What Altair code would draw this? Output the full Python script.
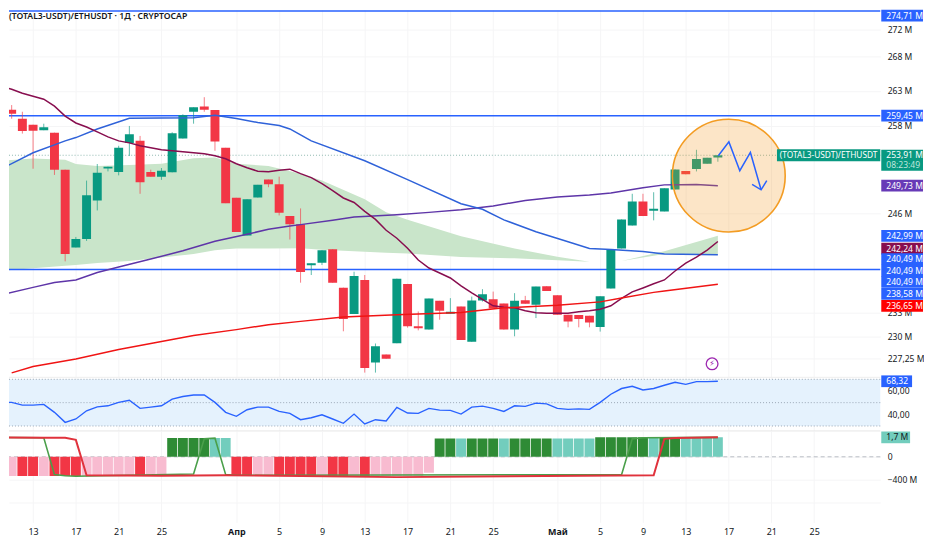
import altair as alt
import pandas as pd

FONT = "Noto Sans"
TXT = "#131722"
BLUE = "#2962ff"
GREEN = "#089981"
RED = "#f23645"
MAROON = "#880e4f"
PURPLE = "#673ab7"

# ---- candles, one per day (day number counted from 1 March) ----
first_day = 10
opens = [262.22,260.29,259.02,258.18,257.40,257.06,251.92,241.45,242.58,247.72,252.09,251.60,255.63,255.91,251.60,250.96,251.55,256.23,260.01,260.77,260.25,254.94,248.08,243.03,248.12,250.56,249.92,245.62,244.52,239.11,239.45,241.23,236.22,232.84,237.21,226.77,227.76,229.16,236.70,231.28,230.87,234.52,232.88,233.80,229.34,234.56,234.74,234.18,230.87,234.61,234.01,236.40,235.25,232.75,232.71,232.62,231.21,236.10,241.32,244.35,247.59,246.34,246.25,249.21,251.74,252.02,252.74,253.60]
closes = [259.51,259.73,257.30,257.34,257.82,251.92,240.58,242.58,248.44,251.51,252.33,254.94,256.84,250.19,250.96,251.78,256.98,259.51,260.63,260.29,255.81,247.36,243.51,247.89,249.84,249.92,246.07,244.52,238.24,239.37,241.10,236.86,232.21,237.72,226.08,228.79,227.23,237.38,231.28,231.03,234.82,233.25,233.13,229.58,234.56,235.38,233.55,230.87,234.52,234.14,236.35,235.80,232.75,231.91,232.21,231.78,235.12,241.23,245.18,247.59,245.62,246.61,249.38,251.96,251.28,253.38,253.56,253.91]
highs = [262.22,260.96,260.01,258.18,258.32,257.06,251.92,242.84,250.42,252.70,252.33,255.22,258.00,256.60,251.92,252.15,257.12,259.65,260.63,262.08,260.25,254.94,248.08,247.89,249.84,250.56,250.96,245.62,246.65,239.37,241.10,241.23,236.22,238.28,237.85,229.13,227.76,237.38,236.70,233.17,234.82,234.52,234.87,233.80,235.07,236.02,235.71,234.18,235.51,235.16,236.35,236.40,235.25,232.75,232.71,232.62,235.12,241.23,245.18,248.63,248.63,248.84,249.38,251.96,251.74,254.67,253.56,253.91]
lows = [259.51,259.02,256.93,252.05,257.40,251.20,239.63,241.45,242.32,246.38,251.68,251.14,253.80,248.63,250.96,250.52,251.55,256.23,258.32,260.01,254.53,247.36,243.51,243.03,248.12,249.52,245.71,242.50,236.86,237.85,239.15,236.86,230.66,232.84,225.52,225.52,227.23,229.16,231.12,230.78,230.87,232.12,232.88,229.58,229.34,234.43,233.55,230.87,230.03,234.14,232.33,235.80,232.75,231.16,231.16,231.16,230.62,236.10,241.32,244.35,245.62,245.05,246.25,249.21,251.28,251.68,252.74,253.01]

# ---- moving averages ----
ma_maroon = [263.65,263.22,262.65,262.22,261.80,260.81,259.40,258.42,257.86,257.16,256.46,255.91,255.63,255.22,254.94,254.67,254.53,254.39,254.25,254.11,253.84,253.43,252.74,252.19,251.71,251.64,251.85,251.99,251.37,250.83,250.02,249.07,248.06,247.45,246.25,245.18,243.73,242.67,241.36,239.80,238.76,238.11,237.47,236.44,235.55,234.71,233.89,233.70,233.63,233.25,233.00,232.94,232.94,232.94,233.13,233.25,233.44,233.89,234.84,235.67,236.18,236.72,237.21,238.37,239.41,240.19,241.10,242.24]
purple_d = [10,13,15,17,19,21,24,27,30,33,35,37,38,41,43,47,50,53,56,59,62,65,67,70,72,75,77]
purple_v = [235.29,236.25,236.89,237.21,238.18,238.89,239.93,241.01,242.28,243.20,243.86,244.30,244.48,245.05,245.49,245.81,246.12,246.47,246.98,247.72,248.20,248.47,248.73,249.44,249.84,249.88,249.73]
blue_d = [10,13,16,17,19,22,25,28,30,32,34,36,37,38,39,44,48,53,55,57,60,63,65,67,70,72,77]
blue_v = [252.01,254.25,255.91,256.37,257.58,259.08,259.12,259.16,259.50,259.05,258.49,258.07,257.58,256.75,255.91,253.15,250.56,247.28,246.54,245.12,243.53,242.21,241.32,241.19,240.93,240.58,240.49]
red_d = [11,13,17,21,25,28,32,35,38,42,47,53,57,62,66,68,71,72,77]
red_v = [225.49,226.28,227.20,228.38,229.37,230.12,230.87,231.49,231.91,232.46,232.75,233.04,233.63,233.95,234.39,234.90,235.61,235.80,236.65]

# ---- green cloud ----
cloud_d = [10,13,16,17,19,22,25,28,30,31,32,35,38,40,44,46,48,53,58,62,65]
cloud_hi = [253.15,253.46,253.29,252.70,252.43,252.56,252.74,253.50,253.60,253.15,252.74,252.43,251.37,250.42,247.89,246.15,245.14,242.94,241.32,240.23,239.58]
cloud_lo = [238.41,238.72,239.05,239.15,239.41,239.67,240.12,240.58,241.10,241.23,241.30,241.32,241.36,241.16,240.88,240.75,240.66,240.20,240.02,239.76,239.58]
cloud2_d = [68,72,77]
cloud2_hi = [239.67,240.97,242.99]
cloud2_lo = [239.67,240.58,240.49]

# ---- drawing: levels, forecast arrow, circle ----
levels = [274.71,259.45,238.58]
last_price = 253.91
arrow_d = [77.04,78.03,79.05,80.04,81.04]
arrow_v = [253.84,255.77,251.78,254.30,249.17]
head_d = [80.2,81.04,81.57]
head_v = [249.90,249.17,250.42]
circle_d = [78.02]
circle_v = [251.1]
bolt_d = [76.46]
bolt_v = [226.6]

# ---- price axis and tags ----
price_ticks = [272,268,263,258,246,233,230,227.25]
tag_text = ["274,71 M","259,45 M","249,73 M","242,99 M","242,24 M","240,49 M","240,49 M","240,49 M","238,58 M","236,65 M"]
tag_pos = [274.0,259.45,249.73,242.99,241.30,239.93,238.41,236.95,235.42,233.89]
tag_col = [BLUE,BLUE,PURPLE,BLUE,MAROON,BLUE,BLUE,BLUE,BLUE,"#ff0000"]

# ---- RSI ----
rsi = [50.2,50.2,47.9,47.9,48.5,41.7,33.1,36,43,46.4,47.3,50.2,52.1,45.1,46.2,47.3,53,55.3,56.6,56.6,50.2,41.7,38.3,43.9,46.2,46.2,42.5,40.8,35.4,37.1,39.6,36,32.3,40.2,31.7,35.4,34.3,45.9,41.1,40.8,45.1,43.6,43.4,40.2,46.2,47,45.1,42.5,47.3,46.8,49.6,49,45.1,44.2,44.7,44.2,50.2,57.2,62.1,64,60.9,62.1,64.9,67.4,65.7,68,68,68.32]
rsi_levels = [70,50,30]
rsi_ticks = [60,40]

# ---- momentum histogram and its two lines ----
R, P, G, T = "#f23645", "#f8bbd0", "#2e8b35", "#72cdbd"
hist_col = [R,P,R,R,P,R,R,R,P,P,P,P,P,R,P,P,G,G,G,G,T,T,R,R,P,P,R,R,R,R,P,R,R,P,R,P,P,P,P,P,P,G,G,T,G,G,G,T,G,G,G,G,T,T,T,T,G,G,G,G,G,T,G,G,T,T,T,T]
hist_val = [-1.68]*16 + [1.65]*6 + [-1.68]*18 + [-1.39] + [1.6]*15 + [1.7]*12
line_red_d = [10,14,16,17,18,25,31,47,71,72,73,77]
line_red_v = [1.7,1.66,1.66,1.48,-1.62,-1.66,-1.62,-1.78,-1.62,1.57,1.65,1.7]
line_grn_d = [10,14,15,16,17,28,29,30,31,32,68,69,70,77]
line_grn_v = [1.7,1.66,-1.56,-1.66,-1.7,-1.5,1.57,1.63,-1.56,-1.62,-1.56,1.57,1.66,1.7]
osc_ticks = [0,-2,-4]

# ---- time axis ----
tick_days = [13,17,21,25,32,36,40,44,48,52,56,62,66,70,74,78,82,86]
tick_labels = ["13","17","21","25","Апр","5","9","13","17","21","25","Май","5","9","13","17","21","25"]

days = list(range(first_day, first_day + len(opens)))
candles = pd.DataFrame({"d":days,"o":opens,"c":closes,"h":highs,"l":lows})
candles["col"] = [GREEN if c>=o else RED for o,c in zip(opens,closes)]

W = 877
xscale = alt.Scale(domain=[10.75,92.18], nice=False, zero=False, padding=0)
price_scale = alt.Scale(type="log", domain=[224.94,274.89], nice=False)
GRID = "#f5f5f6"

x_blank = alt.Axis(labels=False, ticks=False, domain=False, title=None, grid=True, gridColor=GRID, values=tick_days)
X = alt.X("d:Q", scale=xscale, title=None)
X0 = alt.X("d:Q", scale=xscale, axis=x_blank)

def PY(f="v"):
    return alt.Y(f"{f}:Q", scale=price_scale, title=None)

def line(ds, vs, color, width=1.5):
    return alt.Chart(pd.DataFrame({"d":ds,"v":vs})).mark_line(color=color, strokeWidth=width, clip=True).encode(x=X, y=PY())

TICK = 8.6
price_axis = alt.Axis(values=price_ticks, title=None, orient="right", ticks=False, domain=False, grid=True, gridColor=GRID,
                      labelFont=FONT, labelFontSize=TICK, labelColor=TXT, labelPadding=7,
                      labelExpr="replace(format(datum.value,'.2~f'),'.',',')+' M'")

base = alt.Chart(pd.DataFrame({"v":price_ticks,"d":[50]*len(price_ticks)})).mark_point(opacity=0).encode(
    x=X0, y=alt.Y("v:Q", scale=price_scale, axis=price_axis))

clouds = pd.concat([
    pd.DataFrame({"d":cloud_d,"hi":cloud_hi,"lo":cloud_lo,"g":"a"}),
    pd.DataFrame({"d":cloud2_d,"hi":cloud2_hi,"lo":cloud2_lo,"g":"b"})])
cloud = alt.Chart(clouds).mark_area(color="#c9e5ca", clip=True).encode(x=X, y=PY("hi"), y2="lo:Q", detail="g:N")

pane_end = alt.Chart(pd.DataFrame({"v":[224.94]})).mark_rule(color="#eeeeee").encode(y=PY())
level_rules = alt.Chart(pd.DataFrame({"v":levels})).mark_rule(color=BLUE, strokeWidth=1.5).encode(y=PY())
last_rule = alt.Chart(pd.DataFrame({"v":[last_price]})).mark_rule(color="#8fb8b0", strokeWidth=1, strokeDash=[1,2]).encode(y=PY())

wicks = alt.Chart(candles).mark_rule(strokeWidth=1, opacity=0.65, clip=True).encode(
    x=X, y=PY("l"), y2="h:Q", color=alt.Color("col:N", scale=None))
bodies = alt.Chart(candles).mark_bar(width=9, clip=True).encode(
    x=X, y=PY("o"), y2="c:Q", color=alt.Color("col:N", scale=None))

circle = alt.Chart(pd.DataFrame({"d":circle_d,"v":circle_v})).mark_point(
    shape="circle", size=12900, filled=True, fill="#f5961e", fillOpacity=0.25, stroke="#f39c23", strokeWidth=1.6, strokeOpacity=1
).encode(x=X, y=PY())

arrows = pd.concat([
    pd.DataFrame({"d":arrow_d,"v":arrow_v,"g":"a"}),
    pd.DataFrame({"d":head_d,"v":head_v,"g":"b"})])
arrow = alt.Chart(arrows).mark_line(color=BLUE, strokeWidth=1.5).encode(x=X, y=PY(), detail="g:N")

bolt_df = pd.DataFrame({"d":bolt_d,"v":bolt_v,"t":["⚡"]})
bolt = alt.Chart(bolt_df).mark_point(shape="circle", size=140, filled=True, fill="white", stroke="#9c27b0", strokeWidth=1.3, fillOpacity=1).encode(x=X, y=PY())
bolt_t = alt.Chart(bolt_df).mark_text(color="#9c27b0", fontSize=8, font="DejaVu Sans").encode(x=X, y=PY(), text="t:N")

tags_df = pd.DataFrame({"t":tag_text,"v":tag_pos,"col":tag_col})
tag_bg = alt.Chart(tags_df).mark_rect(height=11.8).encode(
    x=alt.value(W+1), x2=alt.value(W+43), y=PY(), color=alt.Color("col:N", scale=None))
tag_tx = alt.Chart(tags_df).mark_text(color="white", font=FONT, fontSize=TICK, align="left", baseline="middle").encode(
    x=alt.value(W+6), y=PY(), text="t:N")

now_bg = alt.Chart(pd.DataFrame({"v":[253.22]})).mark_rect(height=21, color=GREEN).encode(
    x=alt.value(W+1), x2=alt.value(W+43), y=PY())
name_bg = alt.Chart(pd.DataFrame({"v":[253.91]})).mark_rect(height=12, color=GREEN).encode(
    x=alt.value(W-104), x2=alt.value(W), y=PY())
name_tx = alt.Chart(pd.DataFrame({"v":[253.91],"t":["(TOTAL3-USDT)/ETHUSDT"]})).mark_text(
    color="white", font=FONT, fontSize=8.4, align="center", baseline="middle").encode(x=alt.value(W-52), y=PY(), text="t:N")
now_tx = alt.Chart(pd.DataFrame({"v":[253.98,252.60],"t":["253,91 M","08:23:49"],"col":["#ffffff","#bfe6de"]})).mark_text(
    font=FONT, fontSize=TICK, align="left", baseline="middle").encode(
    x=alt.value(W+6), y=PY(), text="t:N", color=alt.Color("col:N", scale=None))

title = alt.Chart(pd.DataFrame({"t":["(TOTAL3-USDT)/ETHUSDT · 1Д · CRYPTOCAP"]})).mark_text(
    font=FONT, fontSize=8.7, fontWeight=600, color=TXT, align="left", baseline="middle").encode(
    x=alt.value(0), y=alt.value(6), text="t:N")

main = alt.layer(base, cloud, pane_end, last_rule, level_rules, wicks, bodies,
                 line(purple_d,purple_v,"#5e35a8"), line(blue_d,blue_v,"#2f62d9"),
                 line(days,ma_maroon,MAROON), line(red_d,red_v,"#f01414"),
                 circle, arrow, bolt, bolt_t, title, now_bg, name_bg, name_tx, now_tx, tag_bg, tag_tx
                 ).properties(width=W, height=370)

# ---- RSI pane ----
rsi_scale = alt.Scale(domain=[25.74,71.7], nice=False, zero=False)
RY = alt.Y("v:Q", scale=rsi_scale, title=None)
rsi_axis = alt.Axis(values=rsi_ticks, title=None, orient="right", ticks=False, domain=False, grid=False,
                    labelFont=FONT, labelFontSize=TICK, labelColor=TXT, labelPadding=7,
                    labelExpr="replace(format(datum.value,'.2f'),'.',',')")
rsi_base = alt.Chart(pd.DataFrame({"v":rsi_ticks,"d":[50,50]})).mark_point(opacity=0).encode(
    x=X0, y=alt.Y("v:Q", scale=rsi_scale, axis=rsi_axis))
band = alt.Chart(pd.DataFrame({"a":[rsi_levels[0]],"b":[rsi_levels[2]]})).mark_rect(color="#e5f2fd").encode(
    x=alt.value(0), x2=alt.value(W), y=alt.Y("a:Q", scale=rsi_scale, title=None), y2="b:Q")
lv = alt.Chart(pd.DataFrame({"v":rsi_levels})).mark_rule(color="#9aa7b5", strokeDash=[1,2], strokeWidth=1).encode(y=RY)
sep = alt.Chart(pd.DataFrame({"v":[25.74]})).mark_rule(color="#e6e6e6").encode(y=RY)
rsi_line = alt.Chart(pd.DataFrame({"d":days,"v":rsi})).mark_line(color=BLUE, strokeWidth=1.4, clip=True).encode(x=X, y=RY)
rsi_tag = alt.Chart(pd.DataFrame({"v":[68.32],"t":["68,32"]}))
rsi_bg = rsi_tag.mark_rect(height=11.8, color=BLUE).encode(x=alt.value(W+1), x2=alt.value(W+32), y=RY)
rsi_tx = rsi_tag.mark_text(color="white", font=FONT, fontSize=TICK, align="left", baseline="middle").encode(x=alt.value(W+6), y=RY, text="t:N")
rsi_pane = alt.layer(rsi_base, band, lv, sep, rsi_line, rsi_bg, rsi_tx).properties(width=W, height=54)

# ---- momentum pane with the time axis ----
osc_scale = alt.Scale(domain=[-5.74,2.26], nice=False, zero=False)
OY = alt.Y("v:Q", scale=osc_scale, title=None)
osc_axis = alt.Axis(values=osc_ticks, title=None, orient="right", ticks=False, domain=False, grid=True, gridColor=GRID,
                    labelFont=FONT, labelFontSize=TICK, labelColor=TXT, labelPadding=7,
                    labelExpr="datum.value==0?'0':datum.value==-2?'−400 M':''")
x_axis = alt.Axis(values=tick_days, title=None, ticks=False, domain=False, grid=True, gridColor=GRID,
                  labelFont=FONT, labelFontSize=9, labelColor=TXT, labelPadding=5,
                  labelExpr="%s[indexof(%s,datum.value)]" % (str(tick_labels), str(tick_days)),
                  labelFontWeight={"condition":{"test":"datum.value==32||datum.value==62","value":"bold"},"value":"normal"})
osc_base = alt.Chart(pd.DataFrame({"v":osc_ticks,"d":[50]*3})).mark_point(opacity=0).encode(
    x=alt.X("d:Q", scale=xscale, axis=x_axis), y=alt.Y("v:Q", scale=osc_scale, axis=osc_axis))
zero = alt.Chart(pd.DataFrame({"v":[0]})).mark_rule(color="#b8bcc4", strokeDash=[4,3]).encode(y=OY)
hist = alt.Chart(pd.DataFrame({"d":days,"v":hist_val,"z":[0]*len(days),"col":hist_col})).mark_bar(width=10, clip=True).encode(
    x=X, y=OY, y2="z:Q", color=alt.Color("col:N", scale=None))
l_grn = alt.Chart(pd.DataFrame({"d":line_grn_d,"v":line_grn_v})).mark_line(color="#4a9f4a", strokeWidth=1.6, clip=True).encode(x=X, y=OY)
l_red = alt.Chart(pd.DataFrame({"d":line_red_d,"v":line_red_v})).mark_line(color="#e0323c", strokeWidth=2, clip=True).encode(x=X, y=OY)
osc_tag = alt.Chart(pd.DataFrame({"v":[1.7],"t":["1,7 M"]}))
osc_bg = osc_tag.mark_rect(height=11.8, color=T).encode(x=alt.value(W+1), x2=alt.value(W+30), y=OY)
osc_tx = osc_tag.mark_text(color=TXT, font=FONT, fontSize=TICK, align="left", baseline="middle").encode(x=alt.value(W+6), y=OY, text="t:N")
osc_pane = alt.layer(osc_base, zero, hist, l_grn, l_red, osc_bg, osc_tx).properties(width=W, height=92)

chart = alt.vconcat(main, rsi_pane, osc_pane, spacing=0, bounds="flush", padding=0, background="white").configure_view(stroke=None)
chart.save("out.html", embed_options={"renderer": "svg", "actions": False})
